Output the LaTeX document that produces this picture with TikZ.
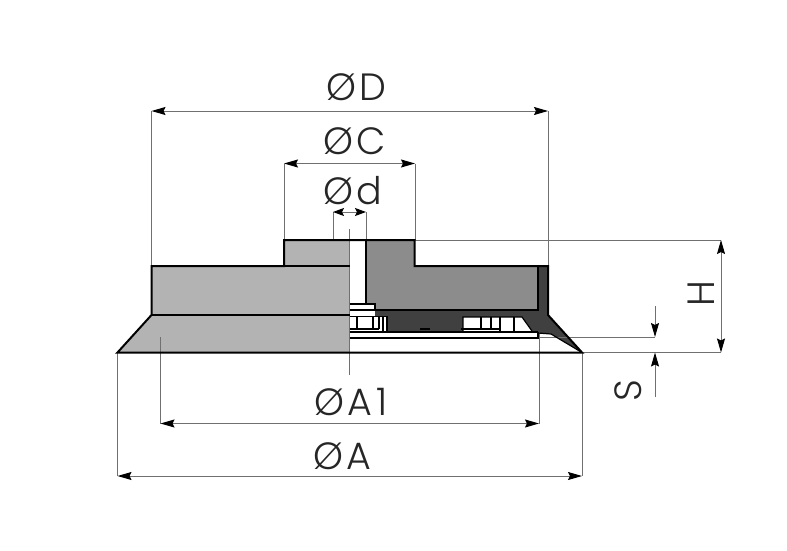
\documentclass[tikz,border=0pt]{standalone}
\usepackage{fontspec}
\setmainfont{Poppins}[UprightFont=* Light,LetterSpace=8]
\usetikzlibrary{arrows.meta}
\definecolor{lgray}{HTML}{B3B3B3}
\definecolor{mgray}{HTML}{8C8C8C}
\definecolor{dgray}{HTML}{404040}
\definecolor{dimc}{HTML}{707070}
\tikzset{
  every picture/.style={x=1pt,y=-1pt},
  outl/.style={draw=black,line width=2pt,line join=miter},
  thin line/.style={draw=black,line width=1.2pt},
  ext/.style={draw=dimc,line width=1pt},
  dimn/.style={draw=dimc,line width=1pt,{Stealth[length=14pt,width=8pt,inset=2pt,black]}-{Stealth[length=14pt,width=8pt,inset=2pt,black]}},
  dimsmall/.style={draw=dimc,line width=1pt,{Stealth[length=11pt,width=8pt,inset=2pt,black]}-{Stealth[length=11pt,width=8pt,inset=2pt,black]}},
  lead/.style={draw=dimc,line width=1pt,-{Stealth[length=14pt,width=8pt,inset=2pt,black]}},
  lab/.style={font=\fontsize{38}{38}\selectfont,inner sep=0pt,text=black!85}
}
\begin{document}
\begin{tikzpicture}
\useasboundingbox (0,0) rectangle (787,551);
\fill[white] (0,0) rectangle (787,551);
% coordinates of dimension ends
\coordinate (D1) at (151.5,111); \coordinate (D2) at (548,111);
\coordinate (C1) at (284,163.5); \coordinate (C2) at (415,163.5);
\coordinate (d1) at (333,212); \coordinate (d2) at (366,212);
\coordinate (A11) at (160.5,423.5); \coordinate (A12) at (539,423.5);
\coordinate (A1) at (117.5,476); \coordinate (A2) at (582,476);
\coordinate (H1) at (721,240); \coordinate (H2) at (721,352.5);
% left (outside view)
\fill[lgray] (117.5,352.5) -- (151.5,315) -- (151.5,266) -- (284,266) -- (284,240) -- (349.5,240) -- (349.5,352.5) -- cycle;
% right section: dark
\fill[dgray] (366,310) -- (538,310) -- (538,266) -- (548,266) -- (548,315) -- (582,352.5) -- (550,334) -- (538,332.5) -- (366,332.5) -- cycle;
% mid gray
\fill[mgray] (366,240) -- (414.5,240) -- (414.5,266) -- (538,266) -- (538,310) -- (366,310) -- cycle;
% white bits on section
\fill[white] (349.5,317) rectangle (387,331);
\fill[white] (463,317) -- (522,317) -- (532,331) -- (463,331) -- cycle;
\fill[white] (349.5,304) rectangle (375,316);
\fill[white] (349.5,332) -- (538,332) -- (538,333) -- (551,334) -- (582,352.5) -- (349.5,352.5) -- cycle;
% extension lines
\draw[ext] (D1) -- (151.5,266);
\draw[ext] (D2) -- (548,266);
\draw[ext] (C1) -- (284,240);
\draw[ext] (C2) -- (415,240);
\draw[ext] (d1) -- (333,240);
\draw[ext] (d2) -- (366,240);
\draw[ext] (349.5,229) -- (349.5,375);
\draw[ext] (160.5,337) -- (A11);
\draw[ext] (539,333) -- (A12);
\draw[ext] (117.5,352.5) -- (A1);
\draw[ext] (582,352.5) -- (A2);
\draw[ext] (415,240) -- (H1);
\draw[ext] (582,352.5) -- (H2);
\draw[ext] (538,337) -- (655,337);
% section outlines
\draw[outl] (349.5,352.5) -- (117.5,352.5) -- (151.5,315) -- (151.5,266) -- (284,266) -- (284,240) -- (414.5,240) -- (414.5,266) -- (548,266) -- (548,315) -- (582,352.5) -- (349.5,352.5) -- cycle;
\draw[outl] (151.5,315) -- (349.5,315);
\draw[outl] (151.5,266) -- (349.5,266);
\draw[thin line] (366,240) -- (366,304);
\draw[outl] (366,310) -- (538,310) -- (538,266);
\draw[thin line] (349.5,304) -- (375,304) -- (375,310);
\draw[thin line] (349.5,310) -- (375,310);
\draw[outl] (349.5,331.5) -- (538,331.5);
\draw[outl] (349.5,337.5) -- (538,337.5) -- (538,331.5);
\draw[thin line] (538,333) -- (551,334) -- (582,352.5);
% left screw group
\draw[thin line] (349.5,316.5) -- (387,316.5) -- (387,332);
\draw[thin line] (357,316.5) -- (357,329) (373,316.5) -- (373,329) (379,316.5) -- (379,329) (383,316.5) -- (383,332);
\draw[outl] (349.5,329) -- (379,329);
% mid bump
\draw[outl] (419.5,329) -- (429.5,329);
% right screw group
\draw[thin line] (463,332) -- (463,317) -- (522,317) -- (532,331);
\draw[thin line] (481,317) -- (481,329) (491,317) -- (491,329) (500,317) -- (500,332) (514,317) -- (514,332);
\draw[outl] (461,329) -- (500,329);
% dimension lines
\draw[dimn] (D1) -- (D2);
\draw[dimn] (C1) -- (C2);
\draw[dimsmall] (d1) -- (d2);
\draw[dimn] (A11) -- (A12);
\draw[dimn] (A1) -- (A2);
\draw[dimn] (H1) -- (H2);
\coordinate (S0) at (655,306); \coordinate (S1) at (655,337);
\coordinate (S2) at (655,397); \coordinate (S3) at (655,352.5);
\draw[lead] (S0) -- (S1);
\draw[lead] (S2) -- (S3);
% labels
\node[lab] (lD) at (356,87) {ØD};
\node[lab] (lC) at (354.5,141) {ØC};
\node[lab] (ld) at (352.5,191) {Ød};
\node[lab] (lA1) at (351,402) {ØA\hspace{5pt}1};
\node[lab] (lA) at (342.5,456) {ØA};
\node[lab,rotate=90] (lH) at (701,294) {H};
\node[lab,rotate=90] (lS) at (628,391) {S};
\end{tikzpicture}
\end{document}
